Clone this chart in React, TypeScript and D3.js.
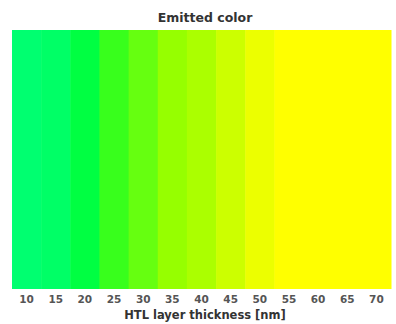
import * as d3 from "d3";

// HTL thickness (nm) for each measured sample, one band per value
const thickness = [10, 15, 20, 25, 30, 35, 40, 45, 50, 55, 60, 65, 70];
// emitted colour
const emitted = [
  "#00ff70", "#00ff66", "#00ff42", "#38ff1c", "#66ff10", "#96ff00", "#abff00",
  "#ccff00", "#ecff00", "#ffff00", "#ffff00", "#ffff00", "#ffff00",
];
const tickValues = [10, 15, 20, 25, 30, 35, 40, 45, 50, 55, 60, 65, 70];

const W = 396;
const H = 324;
const margin = { top: 30, right: 5, bottom: 35, left: 12 };

export default function App() {
  const step = 5;
  const x = d3
    .scaleLinear()
    .domain([thickness[0] - step / 2, thickness[thickness.length - 1] + step / 2])
    .range([margin.left, W - margin.right]);
  const y0 = margin.top;
  const y1 = H - margin.bottom;
  const cx = 205;

  return (
    <svg
      width={W}
      height={H}
      style={{ position: "fixed", left: 0, top: 0, background: "#fff" }}
      fontFamily="'DejaVu Sans', Verdana, sans-serif"
    >
      <text x={cx} y={22} textAnchor="middle" fontSize={12.5} fontWeight="bold" fill="#333">
        Emitted color
      </text>
      {thickness.map((t, i) => (
        <rect
          key={t}
          x={x(t - step / 2)}
          y={y0}
          width={x(t + step / 2) - x(t - step / 2) + 0.5}
          height={y1 - y0}
          fill={emitted[i]}
        />
      ))}
      {tickValues.map((t) => (
        <text
          key={t}
          x={x(t)}
          y={y1 + 14}
          textAnchor="middle"
          fontSize={10.5}
          fontWeight="bold"
          fill="#555"
        >
          {t}
        </text>
      ))}
      <text x={cx} y={y1 + 30} textAnchor="middle" fontSize={11.5} fontWeight="bold" fill="#333">
        HTL layer thickness [nm]
      </text>
    </svg>
  );
}
